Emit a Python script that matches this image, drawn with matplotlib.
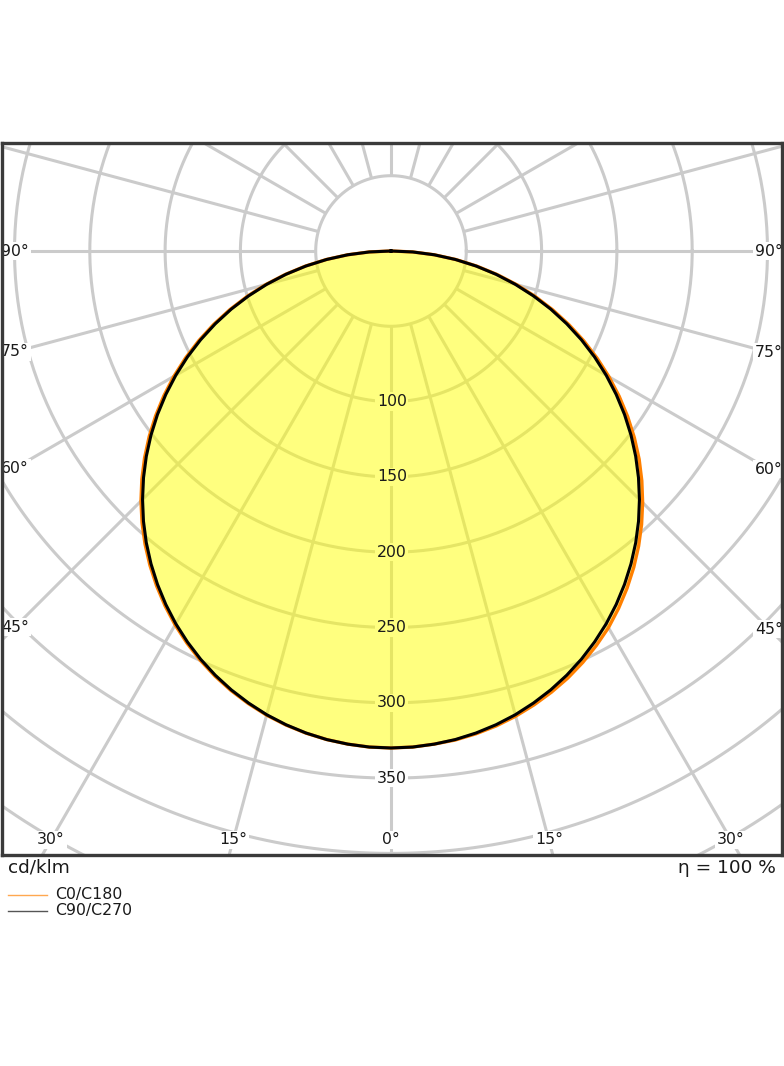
import numpy as np
import matplotlib.pyplot as plt

# luminous intensity distribution, cd/klm, gamma 0..90 deg in 2.5 deg steps
gamma = [0, 2.5, 5, 7.5, 10, 12.5, 15, 17.5, 20, 22.5, 25, 27.5, 30, 32.5, 35, 37.5, 40, 42.5, 45,
         47.5, 50, 52.5, 55, 57.5, 60, 62.5, 65, 67.5, 70, 72.5, 75, 77.5, 80, 82.5, 85, 87.5, 90]
c0 = [330, 329.7, 328.7, 327.5, 325.5, 323.0, 319.8, 316.0, 311.7, 306.9, 301.4, 295.3, 288.8,
      281.3, 273.3, 264.8, 255.8, 246.3, 236.3, 225.9, 215.1, 203.7, 191.9, 179.7, 167.2, 154.4,
      141.3, 127.9, 114.3, 100.4, 86.4, 72.2, 57.9, 43.5, 29.0, 14.5, 0]
c180 = [330, 329.7, 328.7, 327.2, 325.1, 322.4, 319.1, 315.1, 310.6, 305.5, 299.8, 293.5, 286.7,
        279.3, 271.4, 263.0, 254.1, 244.7, 234.8, 224.4, 213.6, 202.4, 190.8, 178.8, 166.5, 153.8,
        140.8, 127.5, 113.9, 100.1, 86.1, 71.9, 57.7, 43.3, 28.9, 14.5, 0]
c90 = [330, 329.7, 328.7, 327.2, 325.0, 322.2, 318.8, 314.7, 310.1, 304.9, 299.1, 292.7, 285.8,
       278.3, 270.3, 261.8, 252.8, 243.3, 233.3, 222.9, 212.1, 200.9, 189.3, 177.3, 165.0, 152.4,
       139.5, 126.3, 112.9, 99.2, 85.4, 71.4, 57.3, 43.1, 28.8, 14.4, 0]
c270 = [330, 329.7, 328.7, 327.2, 325.0, 322.2, 318.8, 314.7, 310.1, 304.9, 299.1, 292.7, 285.8,
        278.3, 270.3, 261.8, 252.8, 243.3, 233.3, 222.9, 212.1, 200.9, 189.3, 177.3, 165.0, 152.4,
        139.5, 126.3, 112.9, 99.2, 85.4, 71.4, 57.3, 43.1, 28.8, 14.4, 0]

ring_values = [50, 100, 150, 200, 250, 300, 350, 400, 450, 500]
ring_labels = [100, 150, 200, 250, 300, 350]
spoke_angles = list(range(0, 360, 15))
side_labels = [45, 60, 75, 90]
bottom_labels = [0, 15, 30]

W, H = 784, 1066
px = 1.506  # pixels per cd/klm
cx, cy = 391, 251
left, right, top, bottom = 2, 782, 143, 855

fig = plt.figure(figsize=(W / 100, H / 100), dpi=100)
ax = fig.add_axes([left / W, 1 - bottom / H, (right - left) / W, (bottom - top) / H])
ax.set_xlim(-(cx - left) / px, (right - cx) / px)
ax.set_ylim(-(bottom - cy) / px, (cy - top) / px)
ax.set_xticks([])
ax.set_yticks([])
for s in ax.spines.values():
    s.set_color('#3a3a3a')
    s.set_linewidth(2.4)
    s.set_zorder(10)

grid_col = '#cbcbcb'
txt_col = '#1a1a1a'
fs = 11.3
t = np.linspace(0, 2 * np.pi, 400)
for r in ring_values:
    ax.plot(r * np.cos(t), r * np.sin(t), color=grid_col, lw=2.2, zorder=1)
for a in spoke_angles:
    a_r = np.radians(a)
    ax.plot([50 * np.sin(a_r), 700 * np.sin(a_r)], [-50 * np.cos(a_r), -700 * np.cos(a_r)],
            color=grid_col, lw=2.2, zorder=1, solid_capstyle='butt')


def label(x, y, s):
    # white patch under the fill, text on top
    ax.text(x, y, s, ha='center', va='center', fontsize=fs, color='none',
            bbox=dict(fc='white', ec='none', pad=1.2), zorder=2)
    ax.text(x, y, s, ha='center', va='center', fontsize=fs, color=txt_col, zorder=6)


g = np.radians(gamma)


def curve(right_vals, left_vals):
    rv = np.array(right_vals)
    lv = np.array(left_vals)
    x = np.concatenate([-lv[::-1] * np.sin(g[::-1]), rv[1:] * np.sin(g[1:])])
    y = np.concatenate([-lv[::-1] * np.cos(g[::-1]), -rv[1:] * np.cos(g[1:])])
    return x, y


xo, yo = curve(c0, c180)
xb, yb = curve(c90, c270)
ax.fill(xo, yo, color='#ffff00', alpha=0.5, lw=0, zorder=3)
ax.plot(xo, yo, color='#ff8000', lw=2.4, zorder=4, solid_joinstyle='round')
ax.plot(xb, yb, color='black', lw=2.2, zorder=5, solid_joinstyle='round')

for r in ring_labels:
    label(0.5, -r, str(r))

# angle labels on the sides
xl = (15 - cx) / px
xr = (769 - cx) / px
for a in side_labels:
    ta = np.tan(np.radians(a))
    yl = 0 if a == 90 else xl / ta
    yr = 0 if a == 90 else -xr / ta
    label(xl, yl, f'{a}°')
    label(xr, yr, f'{a}°')

yb_lab = -(840 - cy) / px
for a in bottom_labels:
    xa = -yb_lab * np.tan(np.radians(a))
    label(xa, yb_lab, f'{a}°')
    if a != 0:
        label(-xa, yb_lab, f'{a}°')

fig.text(8 / W, 1 - 868 / H, 'cd/klm', ha='left', va='center', fontsize=13.3, color=txt_col)
fig.text(776 / W, 1 - 868 / H, 'η = 100 %', ha='right', va='center', fontsize=13.3, color=txt_col)

# legend
for yy, col, lab in [(895, '#ffa850', 'C0/C180'), (911, '#555555', 'C90/C270')]:
    fig.add_artist(plt.Line2D([8 / W, 47 / W], [1 - yy / H, 1 - yy / H], color=col, lw=1.0))
    fig.text(55 / W, 1 - yy / H, lab, ha='left', va='center', fontsize=11.3, color=txt_col)

fig.savefig('out.png', dpi=100)
